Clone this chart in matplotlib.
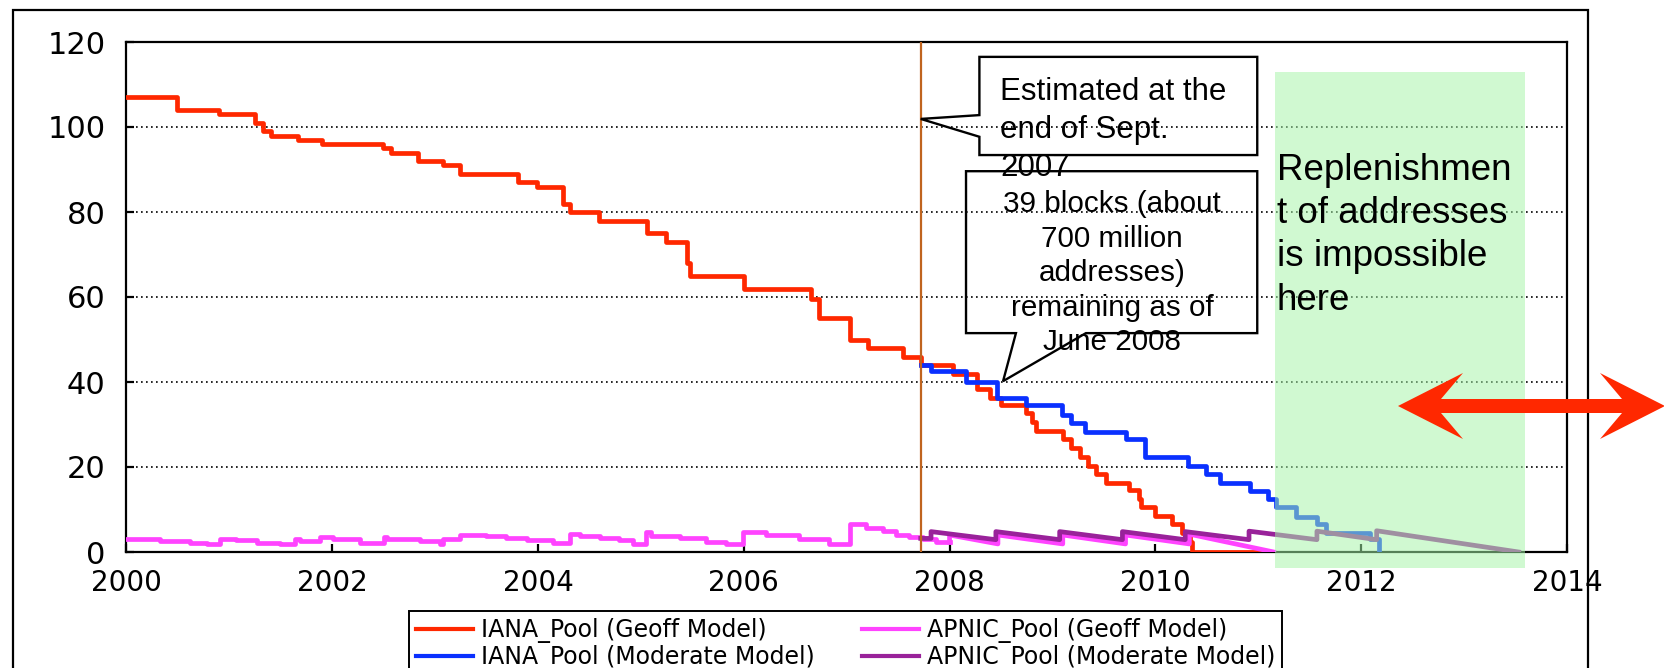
import matplotlib
matplotlib.use("Agg")
import matplotlib.pyplot as plt
from matplotlib.patches import Polygon, Rectangle
from matplotlib.lines import Line2D

# IANA free pool, Geoff model (step start year, /8 blocks left)
iana_geoff_x = [2000.00, 2000.49, 2000.90, 2001.25, 2001.33, 2001.41, 2001.67, 2001.90,
                2002.49, 2002.57, 2002.83, 2003.08, 2003.24, 2003.81, 2003.99, 2004.24,
                2004.31, 2004.59, 2005.06, 2005.24, 2005.45, 2005.48, 2006.00, 2006.65,
                2006.73, 2007.03, 2007.21, 2007.55, 2007.72, 2008.03, 2008.27, 2008.39,
                2008.50, 2008.74, 2008.80, 2008.84, 2009.10, 2009.18, 2009.27, 2009.35,
                2009.42, 2009.52, 2009.74, 2009.84, 2009.86, 2010.00, 2010.16, 2010.26,
                2010.34, 2010.36, 2011.05]
iana_geoff_y = [107, 104, 103, 101, 99, 98, 97, 96,
                95, 94, 92, 91, 89, 87, 86, 82,
                80, 78, 75, 73, 68, 65, 62, 59.5,
                55, 50, 48, 46, 44, 42, 38.4, 36.3,
                34.5, 32.6, 30.6, 28.4, 26.5, 24.4, 22.4, 20.2,
                18.3, 16.3, 14.5, 12.4, 10.7, 8.5, 6.6, 4.5,
                2.4, 0, 0]

# IANA free pool, moderate model
iana_mod_x = [2007.72, 2007.82, 2008.16, 2008.46, 2008.74, 2009.09, 2009.18, 2009.32,
              2009.71, 2009.90, 2010.32, 2010.49, 2010.63, 2010.92, 2011.09, 2011.17,
              2011.37, 2011.57, 2011.66, 2012.09, 2012.17]
iana_mod_y = [44, 42.5, 40, 36.3, 34.5, 32.3, 30.4, 28.3,
              26.5, 22.4, 20.2, 18.3, 16.3, 14.4, 12.4, 10.7,
              8.3, 6.7, 4.5, 3.0, 0]

# APNIC pool, Geoff model: monthly steps up to 2008 ...
apnic_geoff_x = [2000.00, 2000.33, 2000.62, 2000.78, 2000.91, 2001.07, 2001.27, 2001.49,
                 2001.64, 2001.69, 2001.88, 2002.01, 2002.27, 2002.50, 2002.53, 2002.85,
                 2003.05, 2003.08, 2003.24, 2003.50, 2003.69, 2003.89, 2004.15, 2004.31,
                 2004.41, 2004.60, 2004.79, 2004.92, 2005.05, 2005.10, 2005.38, 2005.63,
                 2005.83, 2005.99, 2006.03, 2006.22, 2006.54, 2006.83, 2007.03, 2007.19,
                 2007.35, 2007.48, 2007.61, 2007.74, 2007.87, 2008.00]
apnic_geoff_y = [3.0, 2.7, 2.2, 1.8, 3.1, 2.8, 2.2, 1.8,
                 3.0, 2.6, 3.5, 3.1, 2.2, 3.5, 3.1, 2.7,
                 1.9, 3.1, 4.0, 3.7, 3.2, 2.9, 2.2, 4.2,
                 3.7, 3.2, 2.8, 2.0, 4.8, 3.8, 3.2, 2.4,
                 1.9, 4.8, 4.6, 4.0, 3.1, 1.9, 6.7, 5.7,
                 5.0, 4.0, 3.5, 3.0, 2.3, 2.3]
# ... then the forecast sawtooth
apnic_geoff_fx = [2008.00, 2008.00, 2008.47, 2008.47, 2009.10, 2009.10, 2009.71, 2009.71,
                  2010.33, 2010.33, 2011.15]
apnic_geoff_fy = [2.3, 4.0, 1.9, 4.0, 1.9, 4.0, 1.9, 4.0, 1.9, 4.2, 0.0]

# APNIC pool, moderate model
apnic_mod_x = [2007.72, 2007.82, 2007.82, 2008.45, 2008.45, 2009.07, 2009.07, 2009.68,
               2009.68, 2010.29, 2010.29, 2010.91, 2010.91, 2011.57, 2011.57, 2012.15,
               2012.15, 2013.53]
apnic_mod_y = [3.2, 3.2, 4.8, 2.9, 4.8, 2.9, 4.8, 2.9,
               4.8, 2.9, 4.8, 2.9, 4.9, 2.9, 4.9, 2.9,
               5.0, 0.0]

estimate_year = 2007.72
no_refill = (2011.16, 2013.59)

labels = ["IANA_Pool (Geoff Model)", "IANA_Pool (Moderate Model)",
          "APNIC_Pool (Geoff Model)", "APNIC_Pool (Moderate Model)"]
colors = ["#ff2800", "#0a30ff", "#ff44ff", "#99229a"]

W, H = 1664, 668
fig = plt.figure(figsize=(W / 100, H / 100), dpi=100)
ax = fig.add_axes([126.3 / W, 1 - 552 / H, (1567 - 126.3) / W, (552 - 42) / H])

def fig_px(x, y):
    return (x / W, 1 - y / H)

lw = 3.4
ax.plot(iana_geoff_x, iana_geoff_y, drawstyle="steps-post", color=colors[0], lw=lw, zorder=3)
ax.plot(iana_mod_x, iana_mod_y, drawstyle="steps-post", color=colors[1], lw=lw, zorder=3.1)
ax.plot(apnic_geoff_x, apnic_geoff_y, drawstyle="steps-post", color=colors[2], lw=lw, zorder=3.2)
ax.plot(apnic_geoff_fx, apnic_geoff_fy, color=colors[2], lw=lw, zorder=3.2)
ax.plot(apnic_mod_x, apnic_mod_y, color=colors[3], lw=lw, zorder=3.3)

ax.axvline(estimate_year, color="#c0641e", lw=1.6, zorder=3.5)

ax.set_xlim(2000, 2014)
ax.set_ylim(0, 120)
ax.set_xticks(range(2000, 2015, 2))
ax.set_yticks(range(0, 121, 20))
ax.yaxis.grid(True, linestyle=(0, (1, 2)), color="black", lw=1.2)
ax.set_axisbelow(True)
ax.tick_params(direction="in", length=6, width=1.6, colors="black")
ax.tick_params(axis="x", labelsize=20, pad=12)
ax.tick_params(axis="y", labelsize=22, pad=15)
for s in ax.spines.values():
    s.set_color("black")
    s.set_linewidth(1.6)
ax.spines["top"].set_linestyle((0, (1, 1)))

# green band where the pools can no longer be refilled
ax.add_patch(Rectangle((no_refill[0], -3.7), no_refill[1] - no_refill[0], 116.7,
                       facecolor="#a5f5a8", alpha=0.52, lw=0, zorder=4, clip_on=False))
ax.text(no_refill[0] + 0.02, 74.5, "Replenishmen\nt of addresses\nis impossible\nhere",
        family="Liberation Sans", fontsize=26.5, linespacing=1.3,
        ha="left", va="center", zorder=6)

# callout boxes
c1 = [(2008.29, 116.5), (2010.99, 116.5), (2010.99, 93.4), (2008.29, 93.4),
      (2008.29, 97.7), (estimate_year, 101.9), (2008.29, 102.8)]
ax.add_patch(Polygon(c1, closed=True, fill=False, ec="black", lw=1.7, zorder=5, clip_on=False))
ax.text(2008.49, 99.2, "Estimated at the\nend of Sept.\n2007", family="Liberation Sans",
        fontsize=22.5, linespacing=1.35, ha="left", va="center", zorder=6)

c2 = [(2008.16, 89.6), (2010.99, 89.6), (2010.99, 51.5), (2009.325, 51.5),
      (2008.52, 40.2), (2008.645, 51.5), (2008.16, 51.5)]
ax.add_patch(Polygon(c2, closed=True, fill=False, ec="black", lw=1.7, zorder=5, clip_on=False))
ax.text(2009.58, 65.6, "39 blocks (about\n700 million\naddresses)\nremaining as of\nJune 2008",
        family="Liberation Sans", fontsize=21.3, linespacing=1.3, ha="center", va="center",
        multialignment="center", zorder=6)

# red double-headed arrow on the right
arrow = [(1398, 406), (1463, 373), (1441, 399), (1622, 399), (1600, 373), (1665, 406),
         (1600, 439), (1622, 413), (1441, 413), (1463, 439)]
fig.add_artist(Polygon([fig_px(x, y) for x, y in arrow], closed=True,
                       transform=fig.transFigure, fc="#ff2800", ec="none", zorder=7))

# outer frame
x0, y0 = fig_px(13, 10)
x1, _ = fig_px(1588, 10)
fig.add_artist(Rectangle((x0, -0.05), x1 - x0, y0 + 0.05, transform=fig.transFigure,
                         fill=False, ec="black", lw=1.6, zorder=1))

handles = [Line2D([], [], color=c, lw=3.0) for c in colors]
leg = fig.legend(handles, labels, ncol=2, loc="upper left", bbox_to_anchor=fig_px(409, 611),
                 borderaxespad=0, fontsize=17, handlelength=2.4, handletextpad=0.35,
                 columnspacing=2.0, labelspacing=0.1, borderpad=0.3, fancybox=False,
                 framealpha=1, edgecolor="black")
leg.get_frame().set_linewidth(1.4)

fig.savefig("out.png", dpi=100)
